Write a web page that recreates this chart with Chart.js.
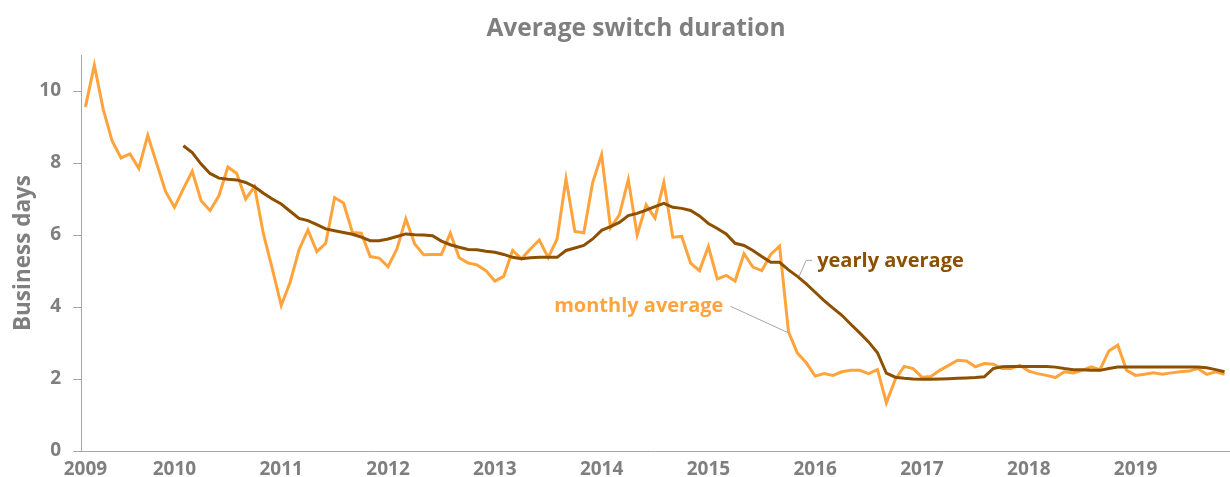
<!DOCTYPE html>
<html>
<head>
<meta charset="utf-8">
<title>Average switch duration</title>
<script src="https://cdn.jsdelivr.net/npm/chart.js@4.4.0/dist/chart.umd.min.js"></script>
<style>
  html, body { margin: 0; padding: 0; background: #fff; }
  #wrap { width: 1230px; height: 477px; position: relative; }
</style>
</head>
<body>
<div id="wrap"><canvas id="switchChart"></canvas></div>
<script>
// one value per month, index 0 = March 2009, last = November 2019
const monthlyAverage = [
  9.56, 10.72, 9.49, 8.61, 8.14, 8.25, 7.85, 8.77, 7.99, 7.21,
  6.77, 7.28, 7.77, 6.95, 6.68, 7.09, 7.89, 7.71, 7.00, 7.34,
  6.03, 5.06, 4.04, 4.69, 5.59, 6.14, 5.54, 5.77, 7.04, 6.89,
  6.07, 6.05, 5.40, 5.36, 5.12, 5.61, 6.45, 5.75, 5.45, 5.46,
  5.46, 6.05, 5.37, 5.22, 5.17, 5.01, 4.72, 4.85, 5.57, 5.34,
  5.61, 5.86, 5.37, 5.89, 7.56, 6.10, 6.06, 7.46, 8.23, 6.20,
  6.56, 7.54, 6.00, 6.84, 6.47, 7.46, 5.94, 5.96, 5.22, 5.01,
  5.68, 4.78, 4.88, 4.72, 5.48, 5.11, 5.01, 5.46, 5.69, 3.31,
  2.72, 2.45, 2.08, 2.15, 2.10, 2.20, 2.24, 2.24, 2.15, 2.26,
  1.34, 1.99, 2.35, 2.29, 2.05, 2.07, 2.24, 2.38, 2.52, 2.50,
  2.34, 2.43, 2.41, 2.29, 2.29, 2.38, 2.22, 2.15, 2.10, 2.04,
  2.20, 2.17, 2.24, 2.34, 2.26, 2.78, 2.94, 2.24, 2.10, 2.13,
  2.17, 2.13, 2.17, 2.20, 2.22, 2.29, 2.13, 2.20, 2.13
];

// rolling 12 month average, first value in February 2010
const yearlyAverage = [
  null, null, null, null, null, null, null, null, null, null,
  null, 8.48, 8.29, 7.97, 7.71, 7.58, 7.55, 7.53, 7.46, 7.34,
  7.16, 7.00, 6.86, 6.66, 6.46, 6.40, 6.29, 6.17, 6.12, 6.07,
  6.02, 5.94, 5.84, 5.84, 5.89, 5.96, 6.03, 6.01, 6.00, 5.98,
  5.83, 5.73, 5.66, 5.60, 5.59, 5.55, 5.52, 5.46, 5.38, 5.34,
  5.37, 5.38, 5.38, 5.38, 5.57, 5.64, 5.71, 5.89, 6.13, 6.23,
  6.35, 6.54, 6.60, 6.69, 6.79, 6.88, 6.77, 6.74, 6.68, 6.53,
  6.32, 6.18, 6.03, 5.77, 5.71, 5.57, 5.40, 5.24, 5.24, 5.03,
  4.85, 4.64, 4.41, 4.18, 3.97, 3.77, 3.52, 3.28, 3.03, 2.73,
  2.16, 2.05, 2.02, 2.00, 1.99, 1.99, 2.00, 2.01, 2.02, 2.03,
  2.04, 2.06, 2.29, 2.34, 2.35, 2.35, 2.35, 2.35, 2.35, 2.33,
  2.29, 2.26, 2.26, 2.24, 2.24, 2.29, 2.33, 2.33, 2.33, 2.33,
  2.33, 2.33, 2.33, 2.33, 2.33, 2.33, 2.31, 2.26, 2.20
];

const yearLabels = ['2009', '2010', '2011', '2012', '2013', '2014', '2015', '2016', '2017', '2018', '2019'];
const yearTickIndex = [0, 10, 22, 34, 46, 58, 70, 82, 94, 106, 118];
const yTickValues = [0, 2, 4, 6, 8, 10];
const chartTitle = 'Average switch duration';

const orange = '#FFA43C';
const brown = '#8C5000';
const grey = '#7F7F7F';
const axisGrey = '#A6A6A6';
const fontFamily = '"Open Sans", sans-serif';

// title (a bit right of the canvas centre, as in the original) and
// labels with leader lines next to the two series
const chartLabels = {
    id: 'chartLabels',
    afterDatasetsDraw(chart) {
        const ctx = chart.ctx;
        const xs = chart.scales.x;
        const ys = chart.scales.y;
        ctx.save();

        ctx.font = 'bold 24.5px ' + fontFamily;
        ctx.fillStyle = grey;
        ctx.textAlign = 'center';
        ctx.textBaseline = 'middle';
        ctx.fillText(chartTitle, 636, 29);

        ctx.font = 'bold 20px ' + fontFamily;
        ctx.strokeStyle = axisGrey;
        ctx.lineWidth = 1;

        // yearly average
        let ax = xs.getPixelForValue(80.2);
        let ay = ys.getPixelForValue(4.85);
        ctx.beginPath();
        ctx.moveTo(ax, ay);
        ctx.lineTo(ax + 7, ay - 16);
        ctx.lineTo(ax + 13, ay - 16);
        ctx.stroke();
        ctx.fillStyle = brown;
        ctx.textAlign = 'left';
        ctx.fillText('yearly average', ax + 18, ay - 15);

        // monthly average
        ax = xs.getPixelForValue(79.1);
        ay = ys.getPixelForValue(3.27);
        ctx.beginPath();
        ctx.moveTo(ax, ay);
        ctx.lineTo(ax - 59, ay - 27);
        ctx.stroke();
        ctx.fillStyle = orange;
        ctx.textAlign = 'right';
        ctx.fillText('monthly average', ax - 66, ay - 27);
        ctx.restore();
    }
};

new Chart(document.getElementById('switchChart'), {
    type: 'line',
    data: {
        datasets: [
            {
                label: 'monthly average',
                data: monthlyAverage.map((v, i) => ({ x: i, y: v })),
                borderColor: orange,
                borderWidth: 3,
                pointRadius: 0,
                tension: 0,
                order: 1
            },
            {
                label: 'yearly average',
                data: yearlyAverage.map((v, i) => ({ x: i, y: v })),
                borderColor: brown,
                borderWidth: 3,
                pointRadius: 0,
                tension: 0,
                order: 0
            }
        ]
    },
    options: {
        responsive: true,
        maintainAspectRatio: false,
        animation: false,
        layout: { padding: { left: 0, right: 1, top: 55, bottom: 0 } },
        plugins: {
            legend: { display: false },
            tooltip: { enabled: false },
            title: { display: false }
        },
        scales: {
            x: {
                type: 'linear',
                min: -0.5,
                max: 128.5,
                afterBuildTicks: scale => { scale.ticks = yearTickIndex.map(v => ({ value: v })); },
                afterFit: scale => { scale.height = 26; },
                ticks: {
                    autoSkip: false,
                    maxRotation: 0,
                    padding: 7,
                    color: grey,
                    font: { family: fontFamily, size: 19, weight: 'bold' },
                    callback: (value, index) => yearLabels[index]
                },
                grid: { display: false, drawTicks: false },
                border: { display: true, color: axisGrey, width: 1 }
            },
            y: {
                min: 0,
                max: 11,
                afterBuildTicks: scale => { scale.ticks = yTickValues.map(v => ({ value: v })); },
                afterFit: scale => { scale.width = 81; },
                ticks: {
                    padding: 12,
                    color: grey,
                    font: { family: fontFamily, size: 19, weight: 'bold' }
                },
                grid: { display: true, drawOnChartArea: false, drawTicks: true, tickLength: 8, color: axisGrey },
                border: { display: true, color: axisGrey, width: 1 },
                title: {
                    display: true,
                    text: 'Business days',
                    color: grey,
                    font: { family: fontFamily, size: 22.5, weight: 'bold' },
                    padding: { top: 10, bottom: 0 }
                }
            }
        }
    },
    plugins: [chartLabels]
});
</script>
</body>
</html>
